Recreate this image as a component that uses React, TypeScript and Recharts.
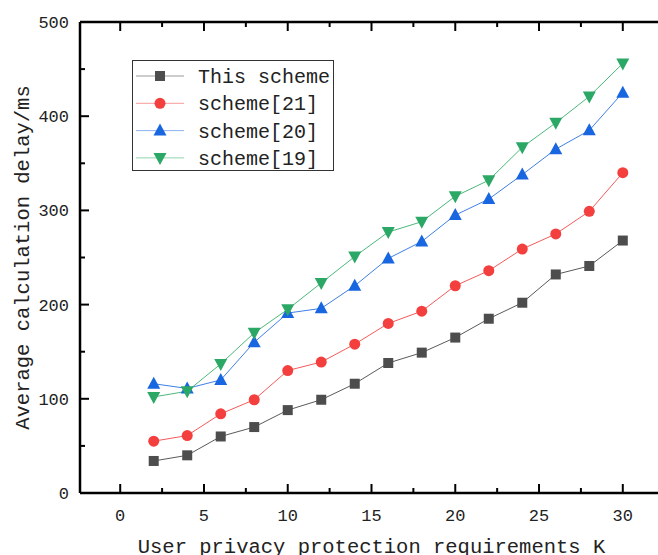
import { LineChart, Line, XAxis, YAxis, Legend } from "recharts";

const kValues = [2, 4, 6, 8, 10, 12, 14, 16, 18, 20, 22, 24, 26, 28, 30];
const thisScheme = [34, 40, 60, 70, 88, 99, 116, 138, 149, 165, 185, 202, 232, 241, 268];
const scheme21 = [55, 61, 84, 99, 130, 139, 158, 180, 193, 220, 236, 259, 275, 299, 340];
const scheme20 = [116, 111, 120, 160, 191, 196, 220, 249, 267, 295, 312, 338, 365, 385, 425];
const scheme19 = [102, 108, 137, 170, 195, 223, 251, 277, 288, 315, 332, 367, 393, 421, 456];

const seriesNames = ["This scheme", "scheme[21]", "scheme[20]", "scheme[19]"];
const xTicks = [0, 2.5, 5, 7.5, 10, 12.5, 15, 17.5, 20, 22.5, 25, 27.5, 30];
const yTicks = [0, 50, 100, 150, 200, 250, 300, 350, 400, 450, 500];

const FONT = '"Liberation Mono", monospace';

const series = [
  { key: "s0", name: seriesNames[0], fill: "#4d4d4d", stroke: "#5a5a5a", shape: "square" },
  { key: "s1", name: seriesNames[1], fill: "#f43f3f", stroke: "#f55a5a", shape: "circle" },
  { key: "s2", name: seriesNames[2], fill: "#1866e0", stroke: "#3f80e6", shape: "up" },
  { key: "s3", name: seriesNames[3], fill: "#2ca866", stroke: "#4cb87c", shape: "down" },
];

const data = kValues.map((k, i) => ({
  k,
  s0: thisScheme[i],
  s1: scheme21[i],
  s2: scheme20[i],
  s3: scheme19[i],
}));

const Marker = ({ cx, cy, shape, color }: any) => {
  if (cx == null || cy == null) return null;
  if (shape === "square") return <rect x={cx - 5} y={cy - 5} width={10} height={10} fill={color} />;
  if (shape === "circle") return <circle cx={cx} cy={cy} r={5.5} fill={color} />;
  if (shape === "up")
    return <polygon points={`${cx},${cy - 7} ${cx + 6.5},${cy + 5} ${cx - 6.5},${cy + 5}`} fill={color} />;
  return <polygon points={`${cx},${cy + 7} ${cx + 6.5},${cy - 5} ${cx - 6.5},${cy - 5}`} fill={color} />;
};

const isMajorX = (v: number) => v % 5 === 0;
const isMajorY = (v: number) => v % 100 === 0;

const BottomTick = ({ x, y, payload }: any) => {
  const major = isMajorX(payload.value);
  return (
    <g>
      <line x1={x} x2={x} y1={y} y2={y - (major ? 9 : 5)} stroke="#000" strokeWidth={2} />
      {major && (
        <text x={x} y={y + 28} textAnchor="middle" fontSize={17} fontFamily={FONT} fill="#222">
          {payload.value}
        </text>
      )}
    </g>
  );
};

const TopTick = ({ x, y, payload }: any) => {
  const major = isMajorX(payload.value);
  return <line x1={x} x2={x} y1={y} y2={y + (major ? 9 : 5)} stroke="#000" strokeWidth={2} />;
};

const LeftTick = ({ x, y, payload }: any) => {
  const major = isMajorY(payload.value);
  return (
    <g>
      <line x1={x} x2={x + (major ? 9 : 5)} y1={y} y2={y} stroke="#000" strokeWidth={2} />
      {major && (
        <text x={x - 11} y={y + 6} textAnchor="end" fontSize={17} fontFamily={FONT} fill="#222">
          {payload.value}
        </text>
      )}
    </g>
  );
};

const RightTick = ({ x, y, payload }: any) => {
  const major = isMajorY(payload.value);
  return <line x1={x} x2={x - (major ? 9 : 5)} y1={y} y2={y} stroke="#000" strokeWidth={2} />;
};

const renderLegend = () => (
  <div style={{ width: 202, height: 111, border: "1px solid #333", background: "#fff", boxSizing: "border-box" }}>
    <svg width={200} height={109}>
      {series.map((s, i) => {
        const cy = 15 + i * 27.3;
        return (
          <g key={s.key}>
            <line x1={3} x2={51} y1={cy} y2={cy} stroke={s.stroke} strokeWidth={1} opacity={0.6} />
            <Marker cx={27} cy={cy} shape={s.shape} color={s.fill} />
            <text x={65} y={cy + 7} fontSize={20} fontFamily={FONT} fill="#222">
              {s.name}
            </text>
          </g>
        );
      })}
    </svg>
  </div>
);

export default function App() {
  return (
    <div style={{ position: "absolute", left: 0, top: 0, width: 658, height: 555, overflow: "hidden", background: "#fff" }}>
      <LineChart width={670} height={555} data={data} margin={{ top: 21, right: 6, bottom: 0, left: 20 }}>
        <XAxis
          xAxisId="bottom"
          dataKey="k"
          type="number"
          domain={[-2.4, 32.4]}
          ticks={xTicks}
          interval={0}
          height={62}
          tickSize={0}
          tickMargin={0}
          tickLine={false}
          tick={<BottomTick />}
          axisLine={{ stroke: "#000", strokeWidth: 2.5 }}
          label={{
            value: "User privacy protection requirements K",
            position: "insideBottom",
            offset: 2,
            fontSize: 20.5,
            fontFamily: FONT,
            fill: "#222",
          }}
        />
        <XAxis
          xAxisId="top"
          orientation="top"
          dataKey="k"
          type="number"
          domain={[-2.4, 32.4]}
          ticks={xTicks}
          interval={0}
          height={1}
          tickSize={0}
          tickMargin={0}
          tickLine={false}
          tick={<TopTick />}
          axisLine={{ stroke: "#000", strokeWidth: 2.5 }}
        />
        <YAxis
          yAxisId="left"
          type="number"
          domain={[0, 500]}
          ticks={yTicks}
          interval={0}
          width={60}
          tickSize={0}
          tickMargin={0}
          tickLine={false}
          tick={<LeftTick />}
          axisLine={{ stroke: "#000", strokeWidth: 2.5 }}
          label={{
            value: "Average calculation delay/ms",
            angle: -90,
            position: "insideLeft",
            offset: 2,
            fontSize: 20.5,
            fontFamily: FONT,
            fill: "#222",
            style: { textAnchor: "middle" },
          }}
        />
        <YAxis
          yAxisId="right"
          orientation="right"
          type="number"
          domain={[0, 500]}
          ticks={yTicks}
          interval={0}
          width={1}
          tickSize={0}
          tickMargin={0}
          tickLine={false}
          tick={<RightTick />}
          axisLine={{ stroke: "#000", strokeWidth: 2.5 }}
        />
        <Legend
          layout="vertical"
          align="center"
          verticalAlign="middle"
          wrapperStyle={{ position: "absolute", left: 132, top: 60, width: 202, height: 111 }}
          content={renderLegend}
        />
        {series.map((s) => (
          <Line
            key={s.key}
            xAxisId="bottom"
            yAxisId="left"
            dataKey={s.key}
            name={s.name}
            stroke={s.stroke}
            strokeWidth={1}
            isAnimationActive={false}
            dot={(p: any) => <Marker key={`${s.key}-${p.index}`} cx={p.cx} cy={p.cy} shape={s.shape} color={s.fill} />}
            activeDot={false}
          />
        ))}
      </LineChart>
    </div>
  );
}
